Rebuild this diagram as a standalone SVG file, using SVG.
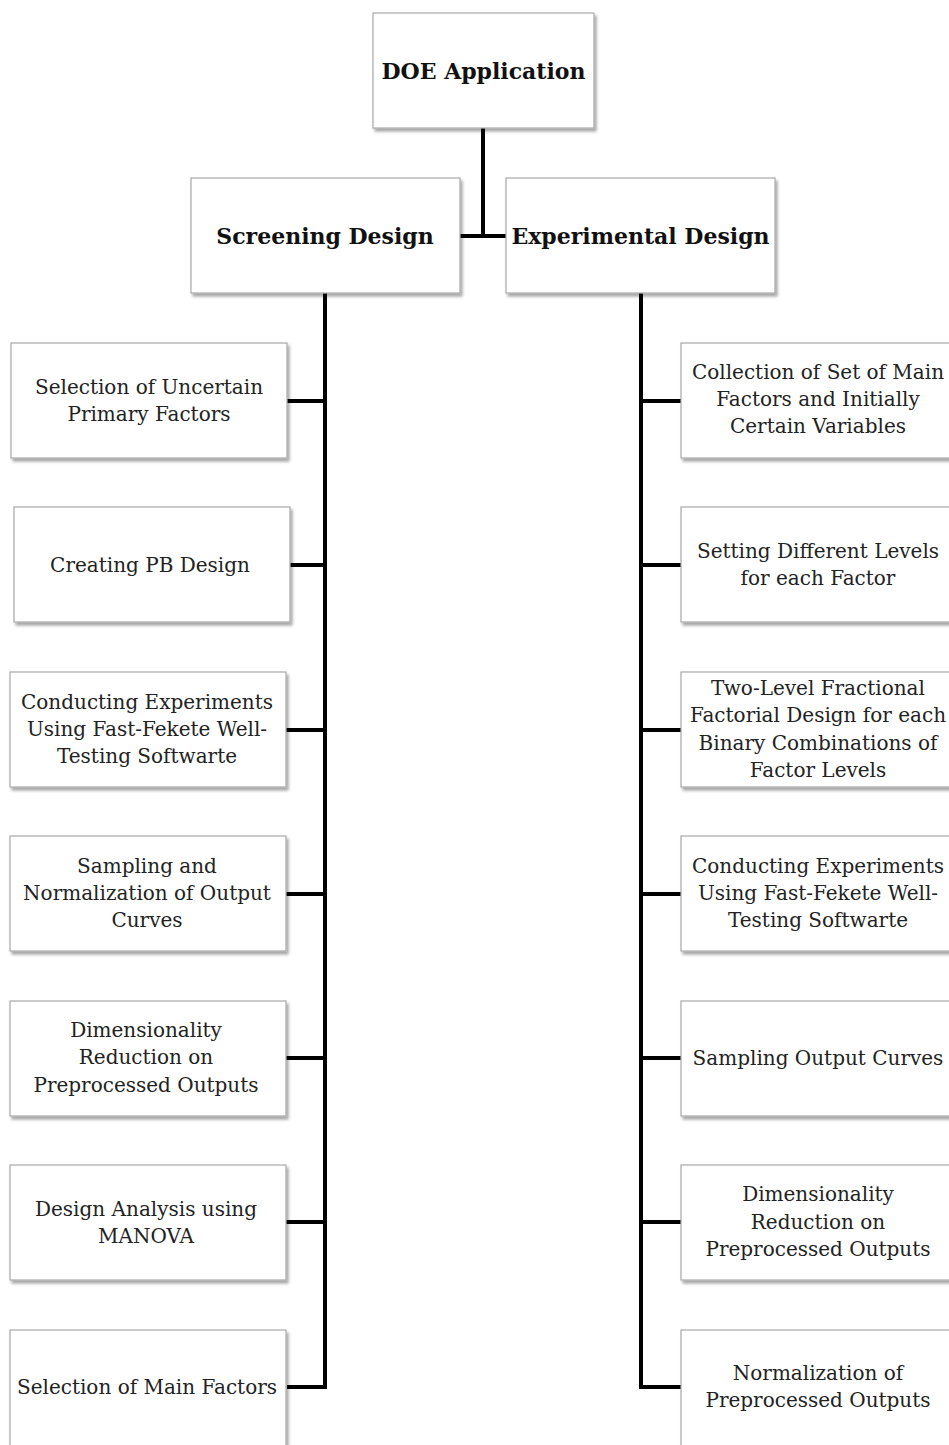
<svg xmlns="http://www.w3.org/2000/svg" width="949" height="1445" viewBox="0 0 949 1445">
<style>
.box{fill:#fff;stroke:#a8a8a8;stroke-width:1.2;filter:url(#sh)}
.t{font-family:"DejaVu Serif","Liberation Serif",serif;font-size:20px;fill:#222;text-anchor:middle}
.b{font-family:"DejaVu Serif","Liberation Serif",serif;font-size:22px;font-weight:bold;fill:#111;text-anchor:middle}
.ln{stroke:#000;stroke-width:4;fill:none}
</style>
<defs>
<filter id="sh" x="-5%" y="-5%" width="115%" height="120%">
<feDropShadow dx="2" dy="3" stdDeviation="1.5" flood-color="#000" flood-opacity="0.35"/>
</filter>
</defs>
<rect width="949" height="1445" fill="#fff"/>
<g id="connectors">
<path class="ln" d="M483 128V236M460 236H506"/>
<path class="ln" d="M325 293V1387H287M287 401H325M290 565H325M286 730H325M286 894H325M286 1058H325M286 1222H325"/>
<path class="ln" d="M641 293V1387H681M641 401H681M641 565H681M641 730H681M641 894H681M641 1058H681M641 1222H681"/>
</g>
<g id="doe"><rect class="box" x="373" y="13" width="221" height="115"/><text class="b" x="483.5" y="79">DOE Application</text></g>
<g id="screening"><rect class="box" x="191" y="178" width="269" height="115"/><text class="b" x="325" y="244">Screening Design</text></g>
<g id="experimental"><rect class="box" x="506" y="178" width="269" height="115"/><text class="b" x="640.5" y="244">Experimental Design</text></g>

<g id="s1"><rect class="box" x="11" y="343" width="276" height="115"/><text class="t" x="149" y="394">Selection of Uncertain</text><text class="t" x="149" y="421">Primary Factors</text></g>
<g id="s2"><rect class="box" x="14" y="507" width="276" height="115"/><text class="t" x="150" y="572">Creating PB Design</text></g>
<g id="s3"><rect class="box" x="10" y="672" width="276" height="115"/><text class="t" x="147" y="709">Conducting Experiments</text><text class="t" x="147" y="736">Using Fast-Fekete Well-</text><text class="t" x="147" y="763">Testing Softwarte</text></g>
<g id="s4"><rect class="box" x="10" y="836" width="276" height="115"/><text class="t" x="147" y="873">Sampling and</text><text class="t" x="147" y="900">Normalization of Output</text><text class="t" x="147" y="927">Curves</text></g>
<g id="s5"><rect class="box" x="10" y="1001" width="276" height="115"/><text class="t" x="146" y="1037">Dimensionality</text><text class="t" x="146" y="1064">Reduction on</text><text class="t" x="146" y="1092">Preprocessed Outputs</text></g>
<g id="s6"><rect class="box" x="10" y="1165" width="276" height="115"/><text class="t" x="146" y="1216">Design Analysis using</text><text class="t" x="146" y="1243">MANOVA</text></g>
<g id="s7"><rect class="box" x="10" y="1330" width="276" height="120"/><text class="t" x="147" y="1394">Selection of Main Factors</text></g>

<g id="e1"><rect class="box" x="681" y="343" width="280" height="115"/><text class="t" x="818" y="379">Collection of Set of Main</text><text class="t" x="818" y="406">Factors and Initially</text><text class="t" x="818" y="433">Certain Variables</text></g>
<g id="e2"><rect class="box" x="681" y="507" width="280" height="115"/><text class="t" x="818" y="558">Setting Different Levels</text><text class="t" x="818" y="585">for each Factor</text></g>
<g id="e3"><rect class="box" x="681" y="672" width="280" height="115"/><text class="t" x="818" y="695">Two-Level Fractional</text><text class="t" x="818" y="722">Factorial Design for each</text><text class="t" x="818" y="750">Binary Combinations of</text><text class="t" x="818" y="777">Factor Levels</text></g>
<g id="e4"><rect class="box" x="681" y="836" width="280" height="115"/><text class="t" x="818" y="873">Conducting Experiments</text><text class="t" x="818" y="900">Using Fast-Fekete Well-</text><text class="t" x="818" y="927">Testing Softwarte</text></g>
<g id="e5"><rect class="box" x="681" y="1001" width="280" height="115"/><text class="t" x="818" y="1065">Sampling Output Curves</text></g>
<g id="e6"><rect class="box" x="681" y="1165" width="280" height="115"/><text class="t" x="818" y="1201">Dimensionality</text><text class="t" x="818" y="1229">Reduction on</text><text class="t" x="818" y="1256">Preprocessed Outputs</text></g>
<g id="e7"><rect class="box" x="681" y="1330" width="280" height="120"/><text class="t" x="818" y="1380">Normalization of</text><text class="t" x="818" y="1407">Preprocessed Outputs</text></g>
</svg>
